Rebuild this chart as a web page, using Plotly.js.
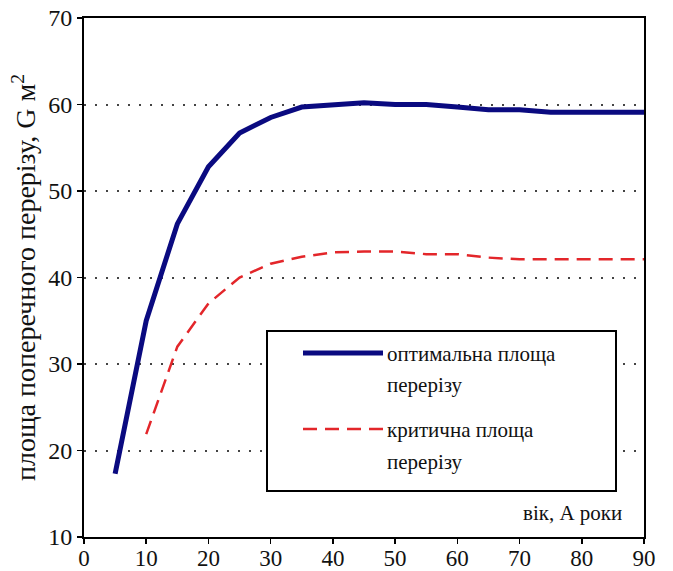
<!DOCTYPE html>
<html>
<head>
<meta charset="utf-8">
<script src="https://cdn.plot.ly/plotly-3.0.1.min.js"></script>
<style>html,body{margin:0;padding:0;background:#fff;}#chart{width:673px;height:571px;}</style>
</head>
<body>
<div id="chart"></div>
<script>
// Data
const optimalAge = [5, 10, 15, 20, 25, 30, 35, 40, 45, 50, 55, 60, 65, 70, 75, 80, 85, 90];
const optimalArea = [17.3, 35, 46.2, 52.8, 56.7, 58.5, 59.7, 60, 60.2, 60, 60, 59.7, 59.4, 59.4, 59.1, 59.1, 59.1, 59.1];
const criticalAge = [10, 15, 20, 25, 30, 35, 40, 45, 50, 55, 60, 65, 70, 75, 80, 85, 90];
const criticalArea = [21.9, 32, 37, 40, 41.6, 42.4, 42.9, 43, 43, 42.7, 42.7, 42.3, 42.1, 42.1, 42.1, 42.1, 42.1];
const seriesNames = ["оптимальна площа", "перерізу", "критична площа", "перерізу"];
const xTicks = [0, 10, 20, 30, 40, 50, 60, 70, 80, 90];
const yTicks = [10, 20, 30, 40, 50, 60, 70];
const xLabel = "вік, А роки";
const yLabel = "площа поперечного перерізу, G м<sup>2</sup>";

const FONT = "Liberation Serif";
const blue = "#0a0a80";
const red = "#e3262a";

// plot area in pixels: left 84, right 644, top 18, bottom 537
const L = 84, R = 644, T = 18, B = 537;
const px = v => (v - L) / (R - L);
const py = v => (B - v) / (B - T);

const traces = [
  {x: optimalAge, y: optimalArea, mode: "lines", name: seriesNames[0],
   line: {color: blue, width: 5}, showlegend: false},
  {x: criticalAge, y: criticalArea, mode: "lines", name: seriesNames[2],
   line: {color: red, width: 2.5, dash: "14px,8px"}, showlegend: false}
];

const shapes = [
  {type: "rect", xref: "paper", yref: "paper", x0: px(267), x1: px(616), y0: py(491), y1: py(331),
   line: {color: "#000", width: 2}, fillcolor: "#fff", layer: "above"},
  {type: "line", xref: "paper", yref: "paper", x0: px(303), x1: px(383), y0: py(353), y1: py(353),
   line: {color: blue, width: 5}, layer: "above"},
  {type: "line", xref: "paper", yref: "paper", x0: px(303), x1: px(383), y0: py(429), y1: py(429),
   line: {color: red, width: 2.5, dash: "14px,8px"}, layer: "above"}
];

const annFont = {family: FONT, size: 21, color: "#111"};
const annotations = [
  {xref: "paper", yref: "paper", x: px(385), y: py(354), text: seriesNames[0], showarrow: false, xanchor: "left", yanchor: "middle", font: annFont},
  {xref: "paper", yref: "paper", x: px(385), y: py(385), text: seriesNames[1], showarrow: false, xanchor: "left", yanchor: "middle", font: annFont},
  {xref: "paper", yref: "paper", x: px(385), y: py(430), text: seriesNames[2], showarrow: false, xanchor: "left", yanchor: "middle", font: annFont},
  {xref: "paper", yref: "paper", x: px(385), y: py(462), text: seriesNames[3], showarrow: false, xanchor: "left", yanchor: "middle", font: annFont},
  {xref: "paper", yref: "paper", x: px(624), y: py(513), text: xLabel, showarrow: false, xanchor: "right", yanchor: "middle", font: annFont}
];

const layout = {
  width: 673, height: 571,
  margin: {l: L, r: 673 - R, t: T, b: 571 - B, pad: 0},
  paper_bgcolor: "#fff", plot_bgcolor: "#fff",
  font: {family: FONT, size: 22, color: "#111"},
  showlegend: false,
  xaxis: {
    range: [0, 90], tickvals: xTicks, ticktext: xTicks.map(String),
    showline: true, linecolor: "#000", linewidth: 2, mirror: true,
    ticks: "outside", ticklen: 5, tickwidth: 1.5, tickcolor: "#000",
    showgrid: false, zeroline: false, ticklabelstandoff: -6,
    tickfont: {family: FONT, size: 23, color: "#111"}
  },
  yaxis: {
    range: [10, 70], tickvals: yTicks, ticktext: yTicks.map(String),
    showline: true, linecolor: "#000", linewidth: 2, mirror: true,
    ticks: "outside", ticklen: 5, tickwidth: 1.5, tickcolor: "#000",
    showgrid: true, gridcolor: "#444", gridwidth: 2, griddash: "2px,9px",
    zeroline: false,
    tickfont: {family: FONT, size: 24, color: "#111"},
    title: {text: yLabel, font: {family: FONT, size: 28, color: "#111"}, standoff: 4}
  },
  shapes: shapes,
  annotations: annotations
};

Plotly.newPlot("chart", traces, layout, {displayModeBar: false, staticPlot: true});
</script>
</body>
</html>
